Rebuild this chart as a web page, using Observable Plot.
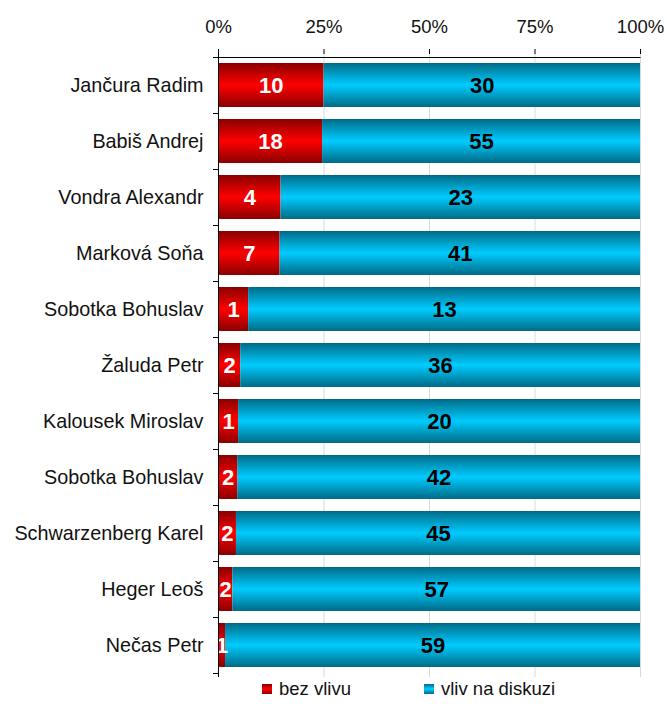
<!DOCTYPE html>
<html>
<head>
<meta charset="utf-8">
<script src="https://cdn.jsdelivr.net/npm/d3@7"></script>
<script src="https://cdn.jsdelivr.net/npm/@observablehq/plot@0.6"></script>
<style>
  body { margin: 0; background: #fff; font-family: "Liberation Sans", Arial, sans-serif; }
  #legend { position: relative; height: 24px; font-size: 18.5px; color: #111; }
  .item { position: absolute; top: -2px; display: flex; align-items: center; }
  .sw { width: 10px; height: 10px; margin-right: 7px; }
</style>
</head>
<body>
<div id="chart"></div>
<div id="legend"></div>
<script>
const names = ["Jančura Radim", "Babiš Andrej", "Vondra Alexandr", "Marková Soňa", "Sobotka Bohuslav", "Žaluda Petr", "Kalousek Miroslav", "Sobotka Bohuslav", "Schwarzenberg Karel", "Heger Leoš", "Nečas Petr"];
const bezVlivu = [10, 18, 4, 7, 1, 2, 1, 2, 2, 2, 1];
const vlivNaDiskuzi = [30, 55, 23, 41, 13, 36, 20, 42, 45, 57, 59];
const seriesNames = ["bez vlivu", "vliv na diskuzi"];
const xTicks = [0, 0.25, 0.5, 0.75, 1];

const rows = [];
names.forEach((n, i) => {
  const tot = bezVlivu[i] + vlivNaDiskuzi[i];
  rows.push({i, s: seriesNames[0], v: bezVlivu[i], x1: 0, x2: bezVlivu[i] / tot});
  rows.push({i, s: seriesNames[1], v: vlivNaDiskuzi[i], x1: bezVlivu[i] / tot, x2: 1});
});
const idx = names.map((_, i) => i);

const W = 667, H = 680, mT = 53, mB = 3, mL = 218, mR = 27;

const defs = () => {
  const d = d3.create("svg:defs");
  const mk = (id, edge, mid) => {
    const g = d.append("linearGradient").attr("id", id).attr("x1", 0).attr("y1", 0).attr("x2", 0).attr("y2", 1);
    g.append("stop").attr("offset", "0%").attr("stop-color", edge);
    g.append("stop").attr("offset", "50%").attr("stop-color", mid);
    g.append("stop").attr("offset", "100%").attr("stop-color", edge);
  };
  mk("gRed", "#8a0000", "#ff0000");
  mk("gBlue", "#006a86", "#00ccff");
  return d.node();
};

// top axis line + category boundary ticks on the left axis, derived from the scales
const frameMark = (index, scales) => {
  const x = scales.x, y = scales.y;
  const bw = y.bandwidth(), st = y.step();
  const off = (st - bw) / 2;
  const x0 = x(0), xe = x(1);
  const g = d3.create("svg:g").attr("stroke", "#000").attr("fill", "none");
  const top = Math.round(y(idx[0]) - off) + 0.5;
  g.append("line").attr("x1", x0).attr("x2", xe + 0.5).attr("y1", top).attr("y2", top);
  const bounds = idx.map(i => y(i) - off).concat([y(idx[idx.length - 1]) + bw + off]);
  for (const b of bounds) {
    const yy = Math.round(b) + 0.5;
    g.append("line").attr("x1", x0 - 5).attr("x2", x0).attr("y1", yy).attr("y2", yy);
  }
  return g.node();
};

const chart = Plot.plot({
  width: W, height: H,
  marginTop: mT, marginBottom: mB, marginLeft: mL, marginRight: mR,
  style: {fontFamily: "'Liberation Sans', Arial, sans-serif", fontSize: "18px", color: "#111", background: "#fff"},
  x: {domain: [0, 1], axis: null, label: null},
  y: {domain: idx, paddingInner: 0.22, paddingOuter: 0.11, axis: null, label: null},
  marks: [
    defs,
    Plot.ruleX(xTicks.slice(1), {stroke: "#d9d9d9", strokeWidth: 1}),
    Plot.barX(rows, {y: "i", x1: "x1", x2: "x2", fill: d => d.s === seriesNames[0] ? "url(#gRed)" : "url(#gBlue)"}),
    Plot.text(rows, {y: "i", x: d => (d.x1 + d.x2) / 2, text: d => String(d.v), fill: d => d.s === seriesNames[0] ? "#fff" : "#000", fontWeight: "bold", fontSize: 22}),
    Plot.axisX({anchor: "top", ticks: xTicks, tickFormat: d => Math.round(d * 100) + "%", tickSize: 5, tickPadding: 16, fontSize: 18.5, stroke: "#000", fill: "#111", label: null}),
    Plot.ruleX([0], {x: d => d, stroke: "#000"}),
    frameMark,
    Plot.axisY({ticks: idx, tickFormat: i => names[i], tickSize: 0, tickPadding: 15, fontSize: 19.8, fill: "#111", label: null})
  ]
});
document.getElementById("chart").appendChild(chart);

const legend = document.getElementById("legend");
const items = [
  {label: seriesNames[0], left: 262, grad: "linear-gradient(#8a0000, #ff0000, #8a0000)"},
  {label: seriesNames[1], left: 424, grad: "linear-gradient(#006a86, #00ccff, #006a86)"}
];
items.forEach(it => {
  const el = document.createElement("div");
  el.className = "item";
  el.style.left = it.left + "px";
  el.innerHTML = `<span class="sw" style="background:${it.grad}"></span><span>${it.label}</span>`;
  legend.appendChild(el);
});
</script>
</body>
</html>
